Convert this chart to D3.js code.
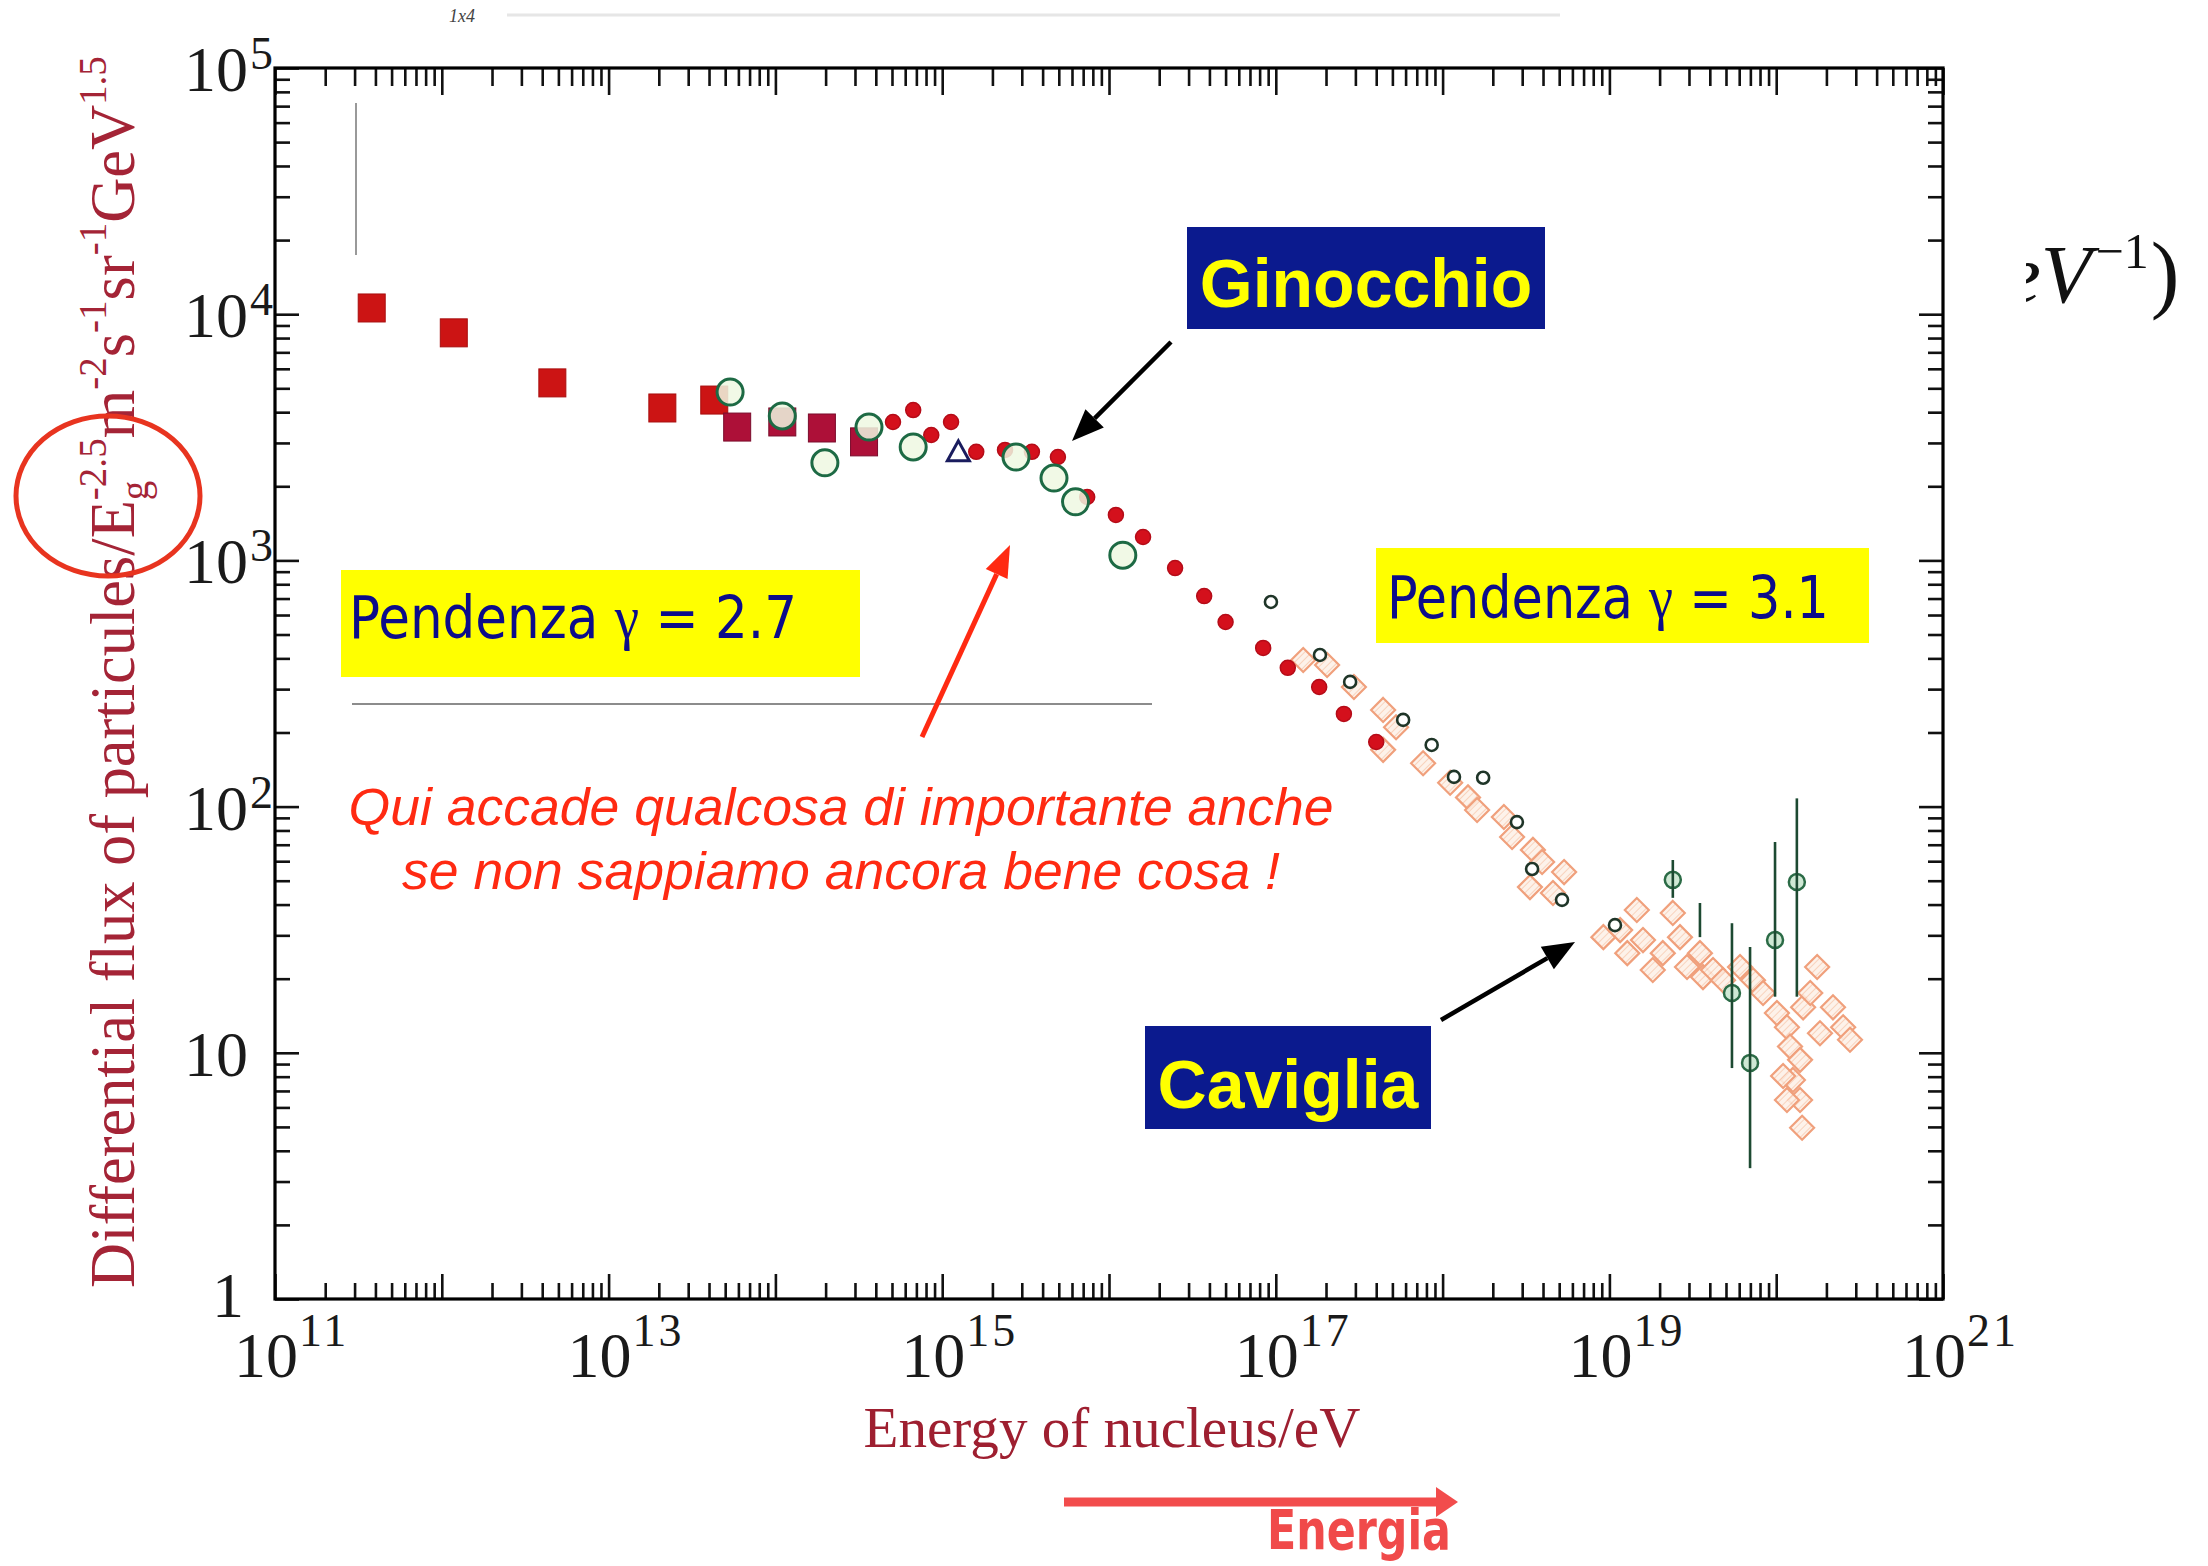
<!DOCTYPE html>
<html>
<head>
<meta charset="utf-8">
<script src="https://cdn.jsdelivr.net/npm/d3@7"></script>
<style>
  html, body { margin: 0; padding: 0; background: #fff; }
  svg { display: block; }
</style>
</head>
<body>
<svg id="chart" width="2208" height="1566"></svg>
<script>
// ---- Cosmic-ray spectrum: E^2.5-weighted flux vs energy (eV) ----

// Direct (balloon/satellite) measurements, large filled squares
const squaresRed = [[3.8e11, 10600], [1.18e12, 8400], [4.6e12, 5260], [2.1e13, 4160], [4.3e13, 4480]];
const squaresCrimson = [[5.9e13, 3480], [1.1e14, 3650], [1.9e14, 3450], [3.4e14, 3030]];

// Air-shower arrays around the knee, open green circles
const circlesGreen = [[5.35e13, 4830], [1.1e14, 3860], [1.98e14, 2490], [3.64e14, 3480], [6.7e14, 2890],
                      [2.77e15, 2630], [4.68e15, 2160], [6.3e15, 1730], [1.21e16, 1050]];

// Single open triangle
const triangles = [[1.25e15, 2760]];

// Small filled red dots through the knee
const dotsRed = [[5.07e14, 3650], [6.7e14, 4080], [8.6e14, 3230], [1.13e15, 3650], [1.6e15, 2760],
                 [2.38e15, 2810], [3.45e15, 2760], [4.94e15, 2630], [7.4e15, 1810], [1.1e16, 1530],
                 [1.6e16, 1245], [2.49e16, 931], [3.72e16, 716], [5.0e16, 562], [8.4e16, 441],
                 [1.18e17, 366], [1.82e17, 306], [2.56e17, 238], [4.0e17, 183]];

// Small open circles, 10^17 - 10^19 eV
const circlesSmall = [[9.35e16, 678], [1.84e17, 413], [2.79e17, 321], [5.8e17, 225], [8.6e17, 178],
                      [1.17e18, 132], [1.75e18, 131], [2.79e18, 86.5], [3.44e18, 55.8], [5.2e18, 41.8],
                      [1.08e19, 33.0]];

// Fluorescence-detector points, open hatched diamonds
const diamonds = [[1.46e17, 394], [2.03e17, 376], [2.94e17, 306], [4.4e17, 247], [5.26e17, 210],
                  [4.4e17, 170], [7.64e17, 150], [1.11e18, 125], [1.42e18, 109], [1.61e18, 96.9],
                  [2.33e18, 90.7], [2.61e18, 75.3], [3.48e18, 66.7], [3.95e18, 59.6], [5.35e18, 54.2],
                  [3.34e18, 47.1], [4.59e18, 44.6], [9.2e18, 29.5], [1.16e19, 31.5], [1.46e19, 38.0],
                  [1.28e19, 25.4], [1.59e19, 28.7], [1.82e19, 21.7], [2.09e19, 25.4], [2.40e19, 37.0],
                  [2.65e19, 29.5], [2.92e19, 22.3], [3.49e19, 25.4], [3.64e19, 20.3], [4.18e19, 21.7],
                  [4.80e19, 19.7], [6.07e19, 22.3], [7.26e19, 19.7], [8.34e19, 17.5], [1.01e20, 14.5],
                  [1.16e20, 12.7], [1.21e20, 10.6], [1.39e20, 9.36], [1.26e20, 7.76], [1.39e20, 6.43],
                  [1.43e20, 4.96], [1.45e20, 15.3], [1.60e20, 17.5], [1.76e20, 22.3], [2.19e20, 15.3],
                  [2.52e20, 12.7], [2.77e20, 11.3], [1.83e20, 12.0], [1.10e20, 8.05], [1.16e20, 6.43]];

// Highest-energy points with error bars: [energy, flux, low, high]
const errPoints = [[2.40e19, 50.4, 42.6, 60.7], [3.49e19, null, 29.5, 40.6], [5.43e19, 17.5, 8.67, 33.6],
                   [6.97e19, 9.10, 3.40, 26.9], [9.84e19, 28.7, 16.9, 71.8], [1.33e20, 49.4, 16.9, 108]];

// Tick labels
const xLabelExps = [11, 13, 15, 17, 19, 21];
const yLabels = [[1e5, "10", "5"], [1e4, "10", "4"], [1e3, "10", "3"], [1e2, "10", "2"], [10, "10", ""], [1, "1", ""]];

// ---- Scales ----
const x = d3.scaleLog().domain([1e11, 1e21]).range([275, 1943]);
const y = d3.scaleLog().domain([1, 1e5]).range([1299, 68]);

const svg = d3.select("#chart");
svg.append("rect").attr("width", 2208).attr("height", 1566).attr("fill", "#fff");

const defs = svg.append("defs");
const hatch = defs.append("pattern").attr("id", "hatch").attr("width", 5).attr("height", 5)
  .attr("patternUnits", "userSpaceOnUse").attr("patternTransform", "rotate(45)");
hatch.append("rect").attr("width", 5).attr("height", 5).attr("fill", "#fdf0e6");
hatch.append("line").attr("x1", 0).attr("y1", 0).attr("x2", 0).attr("y2", 5)
  .attr("stroke", "#f4b896").attr("stroke-width", 1.3);
defs.append("clipPath").attr("id", "rightClip").append("rect")
  .attr("x", 2026).attr("y", 200).attr("width", 182).attr("height", 160);

// faint header strip
svg.append("line").attr("x1", 507).attr("x2", 1560).attr("y1", 15).attr("y2", 15)
  .attr("stroke", "#e6e6e6").attr("stroke-width", 3);
svg.append("text").attr("x", 449).attr("y", 22).attr("font-family", "Liberation Serif")
  .attr("font-size", 18).attr("font-style", "italic").attr("fill", "#444").text("1x4");

// ---- Axes: inward log ticks on all four sides ----
const xMinor = [], xMajor = [], yMinor = [], yMajor = [];
for (let k = 11; k <= 21; k++) {
  xMajor.push(+("1e" + k));
  if (k < 21) for (let m = 2; m <= 9; m++) xMinor.push(+(m + "e" + k));
}
for (let k = 0; k <= 5; k++) {
  yMajor.push(+("1e" + k));
  if (k < 5) for (let m = 2; m <= 9; m++) yMinor.push(+(m + "e" + k));
}
function styleAxis(g) {
  g.select(".domain").remove();
  g.selectAll(".tick line").attr("stroke", "#111").attr("stroke-width", 2.6);
}
const axes = svg.append("g");
axes.append("g").attr("transform", "translate(0,1299)")
  .call(d3.axisBottom(x).tickValues(xMinor).tickSize(-16).tickFormat("")).call(styleAxis);
axes.append("g").attr("transform", "translate(0,1299)")
  .call(d3.axisBottom(x).tickValues(xMajor).tickSize(-25).tickFormat("")).call(styleAxis);
axes.append("g").attr("transform", "translate(0,68)")
  .call(d3.axisTop(x).tickValues(xMinor).tickSize(-18).tickFormat("")).call(styleAxis);
axes.append("g").attr("transform", "translate(0,68)")
  .call(d3.axisTop(x).tickValues(xMajor).tickSize(-27).tickFormat("")).call(styleAxis);
axes.append("g").attr("transform", "translate(275,0)")
  .call(d3.axisLeft(y).tickValues(yMinor).tickSize(-15).tickFormat("")).call(styleAxis);
axes.append("g").attr("transform", "translate(275,0)")
  .call(d3.axisLeft(y).tickValues(yMajor).tickSize(-24).tickFormat("")).call(styleAxis);
axes.append("g").attr("transform", "translate(1943,0)")
  .call(d3.axisRight(y).tickValues(yMinor).tickSize(-15).tickFormat("")).call(styleAxis);
axes.append("g").attr("transform", "translate(1943,0)")
  .call(d3.axisRight(y).tickValues(yMajor).tickSize(-24).tickFormat("")).call(styleAxis);
axes.append("rect").attr("x", 275).attr("y", 68).attr("width", 1668).attr("height", 1231)
  .attr("fill", "none").attr("stroke", "#000").attr("stroke-width", 3.2);

// tick labels
const labels = svg.append("g").attr("font-family", "Liberation Serif").attr("fill", "#1a1a1a");
xLabelExps.forEach(k => {
  const cx = x(+("1e" + k)) - 9;
  labels.append("text").attr("x", cx).attr("y", 1377).attr("text-anchor", "middle")
    .attr("font-size", 64).text("10");
  labels.append("text").attr("x", cx + 33).attr("y", 1346).attr("font-size", 46)
    .attr("letter-spacing", 3).text(String(k));
});
yLabels.forEach(([v, base, exp]) => {
  const right = base === "1" ? 244 : 248;
  labels.append("text").attr("x", right).attr("y", y(v) + (base === "1" ? 18 : 23))
    .attr("text-anchor", "end").attr("font-size", 64).text(base);
  if (exp) labels.append("text").attr("x", right + 2).attr("y", y(v) + 1)
    .attr("font-size", 46).text(exp);
});

// axis titles (condensed to their printed length)
function fitWidth(sel, target, tx, ty, rot) {
  const w = sel.node().getBBox().width;
  sel.attr("transform", `translate(${tx},${ty})` + (rot ? ` rotate(${rot})` : "") + ` scale(${target / w},1)`);
}
const xTitle = svg.append("text").attr("text-anchor", "middle").attr("font-family", "Liberation Serif")
  .attr("font-size", 57).attr("fill", "#9e1f30").text("Energy of nucleus/eV");
fitWidth(xTitle, 497, 1112, 1447);

const yTitle = svg.append("text").attr("text-anchor", "middle").attr("font-family", "Liberation Serif")
  .attr("font-size", 64).attr("fill", "#a42436");
yTitle.append("tspan").text("Differential flux of particules/E");
yTitle.append("tspan").attr("font-size", 40).attr("dy", 14).text("g");
yTitle.append("tspan").attr("font-size", 40).attr("dx", -20).attr("dy", -42).text("-2.5");
yTitle.append("tspan").attr("dy", 28).text("m");
yTitle.append("tspan").attr("font-size", 40).attr("dy", -28).text("-2");
yTitle.append("tspan").attr("dy", 28).text("s");
yTitle.append("tspan").attr("font-size", 40).attr("dy", -28).text("-1");
yTitle.append("tspan").attr("dy", 28).text("sr");
yTitle.append("tspan").attr("font-size", 40).attr("dy", -28).text("-1");
yTitle.append("tspan").attr("dy", 28).text("GeV");
yTitle.append("tspan").attr("font-size", 40).attr("dy", -28).text("1.5");
fitWidth(yTitle, 1232, 134, 672, -90);

// stray guide lines in the figure
svg.append("line").attr("x1", 356).attr("x2", 356).attr("y1", 103).attr("y2", 255)
  .attr("stroke", "#777").attr("stroke-width", 1.5);
svg.append("line").attr("x1", 352).attr("x2", 1152).attr("y1", 704).attr("y2", 704)
  .attr("stroke", "#666").attr("stroke-width", 1.5);

// ---- Data marks ----
const marks = svg.append("g");

marks.append("g").selectAll("path").data(diamonds).join("path")
  .attr("d", "M0,-12L12,0L0,12L-12,0Z")
  .attr("transform", d => `translate(${x(d[0])},${y(d[1])})`)
  .attr("fill", "url(#hatch)").attr("fill-opacity", 0.85)
  .attr("stroke", "#f0a07c").attr("stroke-width", 2.2);

marks.append("g").selectAll("circle").data(circlesSmall).join("circle")
  .attr("cx", d => x(d[0])).attr("cy", d => y(d[1])).attr("r", 6)
  .attr("fill", "#fff").attr("stroke", "#1f3528").attr("stroke-width", 2.6);

const ep = marks.append("g");
ep.selectAll("circle").data(errPoints.filter(d => d[1] !== null)).join("circle")
  .attr("cx", d => x(d[0])).attr("cy", d => y(d[1])).attr("r", 8)
  .attr("fill", "#cfe8d4").attr("stroke", "#2b6b46").attr("stroke-width", 2.5);
ep.selectAll("line").data(errPoints).join("line")
  .attr("x1", d => x(d[0])).attr("x2", d => x(d[0]))
  .attr("y1", d => y(d[3])).attr("y2", d => y(d[2]))
  .attr("stroke", "#1d4a32").attr("stroke-width", 2.6);

marks.append("g").selectAll("rect").data(squaresRed).join("rect")
  .attr("x", d => x(d[0]) - 13.5).attr("y", d => y(d[1]) - 14).attr("width", 27).attr("height", 28)
  .attr("fill", "#cc1414").attr("stroke", "#a80e0e").attr("stroke-width", 1);
marks.append("g").selectAll("rect").data(squaresCrimson).join("rect")
  .attr("x", d => x(d[0]) - 13.5).attr("y", d => y(d[1]) - 14).attr("width", 27).attr("height", 28)
  .attr("fill", "#ad1038").attr("stroke", "#7a0c2c").attr("stroke-width", 1);

marks.append("g").selectAll("circle").data(dotsRed).join("circle")
  .attr("cx", d => x(d[0])).attr("cy", d => y(d[1])).attr("r", 7.5)
  .attr("fill", "#d4101c").attr("stroke", "#b50c18").attr("stroke-width", 1.5);

marks.append("g").selectAll("circle").data(circlesGreen).join("circle")
  .attr("cx", d => x(d[0])).attr("cy", d => y(d[1])).attr("r", 13)
  .attr("fill", "#eef8e2").attr("fill-opacity", 0.85)
  .attr("stroke", "#1d6a44").attr("stroke-width", 3);

marks.append("g").selectAll("path").data(triangles).join("path")
  .attr("d", "M0,-11L11,9L-11,9Z")
  .attr("transform", d => `translate(${x(d[0])},${y(d[1])})`)
  .attr("fill", "#fff").attr("stroke", "#1a1c5e").attr("stroke-width", 3);

// ---- Annotations ----
function arrow(x1, y1, x2, y2, color, w, hl, hw) {
  const a = Math.atan2(y2 - y1, x2 - x1);
  const bx = x2 - hl * Math.cos(a), by = y2 - hl * Math.sin(a);
  svg.append("line").attr("x1", x1).attr("y1", y1).attr("x2", bx).attr("y2", by)
    .attr("stroke", color).attr("stroke-width", w);
  const px = -Math.sin(a) * hw / 2, py = Math.cos(a) * hw / 2;
  svg.append("path").attr("d", `M${x2},${y2}L${bx + px},${by + py}L${bx - px},${by - py}Z`).attr("fill", color);
}

// knee / ankle labels
svg.append("rect").attr("x", 1187).attr("y", 227).attr("width", 358).attr("height", 102).attr("fill", "#0b1a8e");
svg.append("text").attr("x", 1366).attr("y", 307).attr("text-anchor", "middle")
  .attr("font-family", "Liberation Sans").attr("font-weight", "bold").attr("font-size", 68)
  .attr("fill", "#ffff00").text("Ginocchio");
svg.append("rect").attr("x", 1145).attr("y", 1026).attr("width", 286).attr("height", 103).attr("fill", "#0b1a8e");
svg.append("text").attr("x", 1288).attr("y", 1108).attr("text-anchor", "middle")
  .attr("font-family", "Liberation Sans").attr("font-weight", "bold").attr("font-size", 68)
  .attr("fill", "#ffff00").text("Caviglia");
arrow(1171, 342, 1072, 441, "#000", 4.5, 32, 26);
arrow(1441, 1020, 1575, 942, "#000", 4.5, 32, 26);

// slope boxes
function slopeBox(bx, by, bw, bh, tx, ty, tw, value) {
  svg.append("rect").attr("x", bx).attr("y", by).attr("width", bw).attr("height", bh).attr("fill", "#ffff00");
  const t = svg.append("text").attr("font-family", "DejaVu Sans").attr("font-size", 58).attr("fill", "#0c0c8a");
  t.append("tspan").text("Pendenza ");
  t.append("tspan").attr("font-family", "Liberation Serif").attr("font-size", 62).text("γ");
  t.append("tspan").text(" = " + value);
  const w = t.node().getBBox().width;
  t.attr("transform", `translate(${tx},${ty}) scale(${tw / w},1)`);
}
slopeBox(341, 570, 519, 107, 349, 638, 448, "2.7");
slopeBox(1376, 548, 493, 95, 1387, 618, 442, "3.1");

// comment on the knee
const note = svg.append("g").attr("font-family", "Liberation Sans").attr("font-style", "italic")
  .attr("font-size", 52).attr("fill", "#ff2a12");
const n1 = note.append("text").attr("text-anchor", "middle").text("Qui accade qualcosa di importante anche");
const n2 = note.append("text").attr("text-anchor", "middle").text("se non sappiamo ancora bene cosa !");
const s1 = 985 / n1.node().getBBox().width;
n1.attr("transform", `translate(841,825) scale(${s1},1)`);
n2.attr("transform", `translate(841,889) scale(${s1},1)`);
arrow(922, 737, 1010, 545, "#ff2a12", 5, 32, 24);

// energy direction
arrow(1064, 1502, 1458, 1502, "#f24c4c", 9, 22, 30);
const en = svg.append("text").attr("font-family", "DejaVu Sans").attr("font-weight", "bold")
  .attr("font-size", 56).attr("fill", "#f04a4a").text("Energia");
fitWidth(en, 184, 1267, 1549);

// highlight on the y-axis unit
svg.append("ellipse").attr("cx", 108).attr("cy", 496).attr("rx", 92).attr("ry", 80)
  .attr("fill", "none").attr("stroke", "#e8341f").attr("stroke-width", 5);

// unit fragment at the right edge
const frag = svg.append("text").attr("clip-path", "url(#rightClip)").attr("font-family", "Liberation Serif")
  .attr("font-size", 83).attr("fill", "#111").attr("x", 2004).attr("y", 302);
frag.append("tspan").attr("font-style", "italic").text("eV");
frag.append("tspan").attr("font-size", 50).attr("dx", 4).attr("dy", -34).text("−1");
frag.append("tspan").attr("font-size", 86).attr("dx", 2).attr("dy", 34).text(")");
</script>
</body>
</html>
